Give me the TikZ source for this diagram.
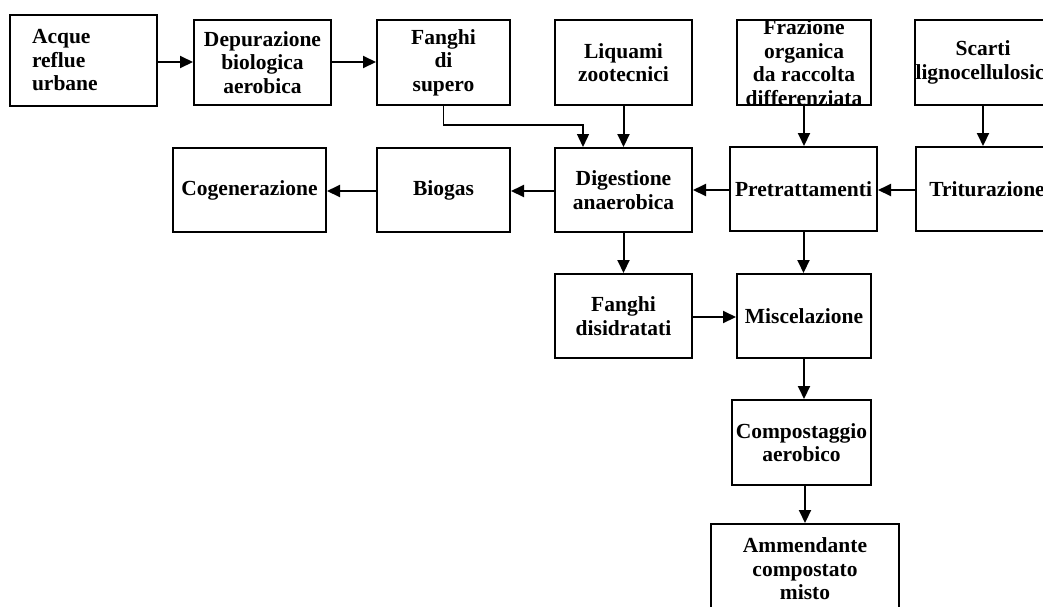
\documentclass[tikz,border=0pt]{standalone}
\usepackage{fontspec}
\setmainfont{Liberation Serif}
\usetikzlibrary{arrows.meta}
\tikzset{
  box/.style={draw, line width=2pt, inner sep=0pt, align=center,
    font=\fontsize{21.5}{23.5}\selectfont\bfseries},
  arr/.style={line width=2pt, -{Triangle[length=13pt,width=12pt]}},
  thinarr/.style={line width=1.4pt, -{Triangle[length=13pt,width=12pt]}}
}
\begin{document}
\begin{tikzpicture}[x=1pt,y=-1pt]
\useasboundingbox (0,0) rectangle (1043,606);
\clip (0,0) rectangle (1043,606);
\fill[white] (0,0) rectangle (1043,606);
% top row
\node[box, minimum width=147pt, minimum height=91pt, text width=103pt, inner xsep=22pt, align=left] (acq) at (83.5,60.5) {Acque\\reflue\\urbane};
\node[box, minimum width=137pt, minimum height=85pt] (dep) at (262.5,62.5) {Depurazione\\biologica\\aerobica};
\node[box, minimum width=133pt, minimum height=85pt] (fsup) at (443.5,62.5) {Fanghi\\di\\supero};
\node[box, minimum width=137pt, minimum height=85pt] (liq) at (623.5,62.5) {Liquami\\zootecnici};
\node[box, minimum width=134pt, minimum height=85pt, inner ysep=-6pt] (fraz) at (804,62.5) {Frazione\\organica\\da raccolta\\differenziata};
\node[box, minimum width=136pt, minimum height=85pt] (sca) at (983,62.5) {Scarti\\lignocellulosici};
% second row
\node[box, minimum width=153pt, minimum height=84pt] (cog) at (249.5,190) {Cogenerazione};
\node[box, minimum width=133pt, minimum height=84pt] (bio) at (443.5,190) {Biogas};
\node[box, minimum width=137pt, minimum height=84pt] (dig) at (623.5,190) {Digestione\\anaerobica};
\node[box, minimum width=147pt, minimum height=84pt] (pre) at (803.5,189) {Pretrattamenti};
\node[box, minimum width=142pt, minimum height=84pt] (tri) at (987,189) {Triturazione};
% lower part
\node[box, minimum width=137pt, minimum height=84pt] (fdis) at (623.5,316) {Fanghi\\disidratati};
\node[box, minimum width=134pt, minimum height=84pt] (mis) at (804,316) {Miscelazione};
\node[box, minimum width=139pt, minimum height=85pt] (com) at (801.5,442.5) {Compostaggio\\aerobico};
\node[box, minimum width=188pt, minimum height=90pt] (amm) at (805,569) {Ammendante\\compostato\\misto};
% connectors
\draw[arr] (acq.east |- 0,62) -- (dep.west |- 0,62);
\draw[arr] (dep.east |- 0,62) -- (fsup.west |- 0,62);
\coordinate (k) at (583,125);
\draw[thinarr] (fsup.south) |- (k) -- (dig.north -| k);
\draw[arr] (liq.south) -- (dig.north);
\draw[arr] (sca.south) -- (sca.south |- tri.north);
\draw[arr] (fraz.south) -- (fraz.south |- pre.north);
\draw[arr] (tri.west |- 0,190) -- (pre.east |- 0,190);
\draw[arr] (pre.west |- 0,190) -- (dig.east |- 0,190);
\draw[arr] (dig.west |- 0,191) -- (bio.east |- 0,191);
\draw[arr] (bio.west |- 0,191) -- (cog.east |- 0,191);
\draw[arr] (dig.south) -- (fdis.north);
\draw[arr] (pre.south) -- (pre.south |- mis.north);
\draw[arr] (fdis.east |- 0,317) -- (mis.west |- 0,317);
\draw[arr] (mis.south) -- (mis.south |- com.north);
\draw[arr] (amm.north |- com.south) -- (amm.north);
\end{tikzpicture}
\end{document}
